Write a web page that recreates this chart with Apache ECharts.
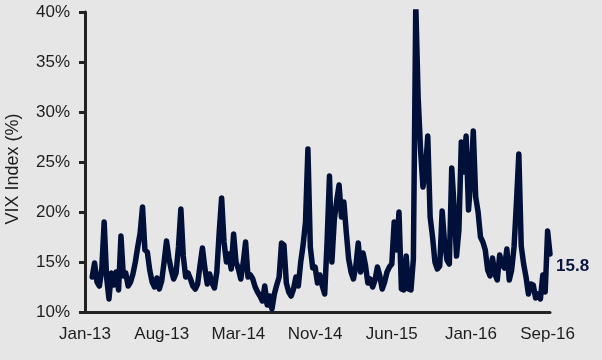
<!DOCTYPE html>
<html>
<head>
<meta charset="utf-8">
<script src="https://cdn.jsdelivr.net/npm/echarts@6/dist/echarts.min.js"></script>
<style>
html,body{margin:0;padding:0;background:#e6e6e6;}
#c{width:602px;height:360px;}
</style>
</head>
<body>
<div id="c"></div>
<script>
// Weekly observations, first week starting 2013-01-02
const startDate = '2013-01-02';
const tickLabels = ['Jan-13','Aug-13','Mar-14','Nov-14','Jun-15','Jan-16','Sep-16'];
const tickIdx = [0, 32, 64, 96, 128, 161, 193];
const vixValues = [
  null, null, null,
  13.5, 14.9, 13.0, 12.6, 14.3, 19.0, 13.5, 11.3, 13.9, 12.7,
  14.0, 12.2, 17.6, 13.6, 13.9, 12.6, 13.0, 13.8, 15.0, 16.5,
  17.9, 20.5, 16.2, 16.0, 14.2, 13.0, 12.5, 13.4, 12.3, 13.1,
  15.0, 17.1, 15.4, 14.2, 13.3, 13.9, 16.5, 20.3, 15.6, 13.5,
  13.9, 13.3, 12.6, 12.3, 12.8, 14.7, 16.4, 14.4, 12.8, 13.8,
  12.9, 12.4, 14.0, 18.0, 21.4, 17.0, 15.0, 15.8, 14.3, 17.8,
  15.0, 14.3, 13.3, 14.9, 17.0, 13.5, 13.7, 13.3, 12.5, 12.0,
  11.6, 11.1, 12.6, 10.7, 11.6, 10.3, 11.8, 12.7, 13.5, 16.9,
  16.7, 12.9, 12.0, 11.6, 12.3, 13.5, 12.6, 15.0, 16.7, 19.0,
  26.3, 16.5, 14.4, 14.5, 12.9, 13.7, 12.6, 11.8, 17.0, 23.6,
  15.0, 19.2, 21.1, 22.7, 19.5, 21.0, 18.0, 15.3, 14.0, 13.3,
  14.6, 16.9, 14.0, 15.9, 14.7, 12.9, 13.3, 12.5, 13.2, 14.5,
  13.6, 12.3, 13.0, 14.0, 14.5, 14.8, 19.0, 16.2, 20.0, 12.3,
  12.2, 15.6, 12.3, 12.2, 15.3, 40.7, 31.4, 26.2, 22.5, 24.0,
  27.6, 19.5, 17.5, 15.0, 14.3, 14.6, 20.1, 17.0, 15.2, 14.8,
  24.4, 20.5, 15.6, 18.2, 27.0, 24.0, 27.6, 20.2, 23.4, 28.1,
  21.5, 20.0, 17.5, 17.0, 16.2, 14.2, 13.6, 15.4, 13.8, 13.2,
  15.7, 14.8, 14.4, 16.3, 13.2, 14.2, 16.5, 20.9, 25.8, 16.6,
  14.8, 13.5, 11.8, 12.8, 12.7, 11.4, 11.8, 11.3, 13.7, 12.0,
  18.1, 15.8
];

const categories = [];
const d0 = new Date(startDate + 'T00:00:00Z');
for (let i = 0; i < vixValues.length; i++) {
  const d = new Date(d0.getTime() + i * 7 * 86400000);
  categories.push(d.toISOString().slice(0, 10));
}

const chart = echarts.init(document.getElementById('c'), null, {renderer: 'canvas'});
const font = '"Liberation Sans", Arial, sans-serif';
chart.setOption({
  backgroundColor: '#e6e6e6',
  animation: false,
  grid: {left: 85, right: 52, top: 12, bottom: 48, containLabel: false, outerBoundsMode: 'none'},
  xAxis: {
    type: 'category',
    data: categories,
    boundaryGap: false,
    axisLine: {lineStyle: {color: '#222222', width: 3}},
    axisTick: {show: false},
    splitLine: {show: false},
    axisLabel: {
      interval: function (idx) { return tickIdx.indexOf(idx) >= 0; },
      formatter: function (val, idx) { const k = tickIdx.indexOf(idx); return k >= 0 ? tickLabels[k] : ''; },
      color: '#1e1e1e', fontFamily: font, fontSize: 17, margin: 14
    }
  },
  yAxis: {
    type: 'value',
    min: 10, max: 40, interval: 5,
    name: 'VIX Index (%)',
    nameLocation: 'middle',
    nameGap: 63,
    nameTextStyle: {color: '#1e1e1e', fontFamily: font, fontSize: 18, padding: [0, 0, 0, -14]},
    axisLine: {show: true, lineStyle: {color: '#222222', width: 3}},
    axisTick: {show: true, length: 6, lineStyle: {color: '#222222', width: 3}},
    splitLine: {show: false},
    axisLabel: {formatter: '{value}%', color: '#1e1e1e', fontFamily: font, fontSize: 17, margin: 15}
  },
  series: [{
    type: 'line',
    data: vixValues,
    showSymbol: false,
    symbol: 'none',
    lineStyle: {color: '#001038', width: 5.5, join: 'round', cap: 'round'},
    endLabel: {
      show: true,
      formatter: function (p) { return p.value; },
      color: '#0b1640', fontFamily: font, fontSize: 17, fontWeight: 'bold',
      distance: 6, offset: [0, 12]
    }
  }]
});
</script>
</body>
</html>
